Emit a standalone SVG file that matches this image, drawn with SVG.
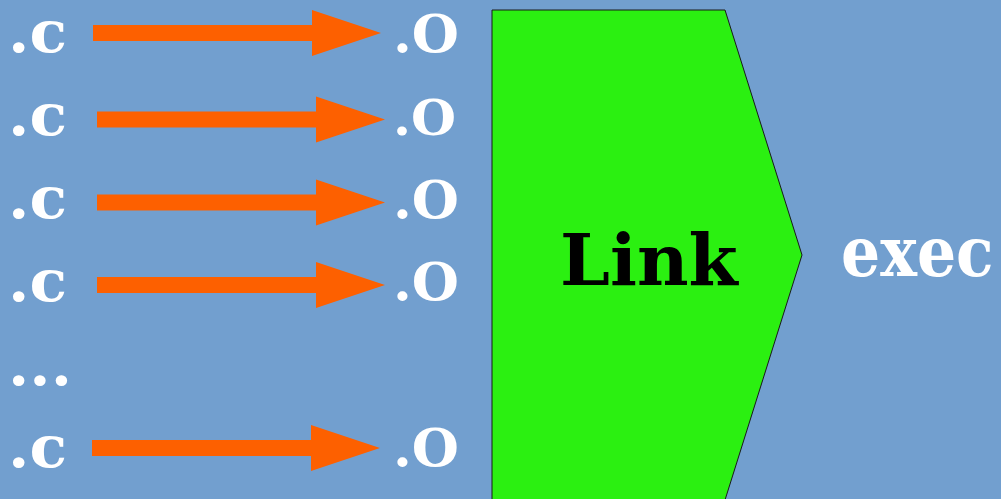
<svg xmlns="http://www.w3.org/2000/svg" xmlns:xlink="http://www.w3.org/1999/xlink" width="1001" height="499" viewBox="0 0 1001 499">
<style>
.t{font-family:"DejaVu Serif","Liberation Serif",serif;font-weight:bold;fill:#ffffff;}
.src{font-size:57px;}
.obj{font-size:52px;}
.arrow{fill:#fd6000;}
.link{font-family:"DejaVu Serif","Liberation Serif",serif;font-weight:bold;font-size:71px;fill:#000000;}
</style>
<defs>
<polygon id="arrow" class="arrow" points="0,-8 219,-8 219,-23 288,0 219,23 219,8 0,8"/>
</defs>
<rect x="0" y="0" width="1001" height="499" fill="#729fcf"/>
<g id="connectors">
<use xlink:href="#arrow" x="93" y="33"/>
<use xlink:href="#arrow" x="97" y="119.5"/>
<use xlink:href="#arrow" x="97" y="202.5"/>
<use xlink:href="#arrow" x="97" y="285"/>
<use xlink:href="#arrow" x="92" y="448"/>
</g>
<g id="src1"><text class="t src" x="8" y="52" textLength="59" lengthAdjust="spacingAndGlyphs">.c</text></g>
<g id="src2"><text class="t src" x="8" y="135" textLength="59" lengthAdjust="spacingAndGlyphs">.c</text></g>
<g id="src3"><text class="t src" x="8" y="218" textLength="59" lengthAdjust="spacingAndGlyphs">.c</text></g>
<g id="src4"><text class="t src" x="8" y="301" textLength="59" lengthAdjust="spacingAndGlyphs">.c</text></g>
<g id="ellipsis"><text class="t src" x="8" y="385" textLength="64" lengthAdjust="spacingAndGlyphs">...</text></g>
<g id="src6"><text class="t src" x="8" y="467" textLength="59" lengthAdjust="spacingAndGlyphs">.c</text></g>
<g id="obj1"><text class="t obj" x="393" y="52" textLength="66" lengthAdjust="spacingAndGlyphs">.O</text></g>
<g id="obj2"><text class="t obj" x="393" y="135" textLength="63" lengthAdjust="spacingAndGlyphs" style="font-size:48px">.O</text></g>
<g id="obj3"><text class="t obj" x="393" y="218" textLength="66" lengthAdjust="spacingAndGlyphs">.O</text></g>
<g id="obj4"><text class="t obj" x="393" y="300" textLength="66" lengthAdjust="spacingAndGlyphs">.O</text></g>
<g id="obj6"><text class="t obj" x="393" y="466" textLength="66" lengthAdjust="spacingAndGlyphs">.O</text></g>
<g id="link">
<polygon points="492,10 725,10 802,255 725,500 492,500" fill="#2bf011" stroke="#1a1a1a" stroke-width="1"/>
<text class="link" x="560" y="285">Link</text>
</g>
<g id="exec"><text class="t" transform="translate(841,276) scale(0.88,1)" x="0" y="0" style="font-size:70px">exec</text></g>
</svg>
